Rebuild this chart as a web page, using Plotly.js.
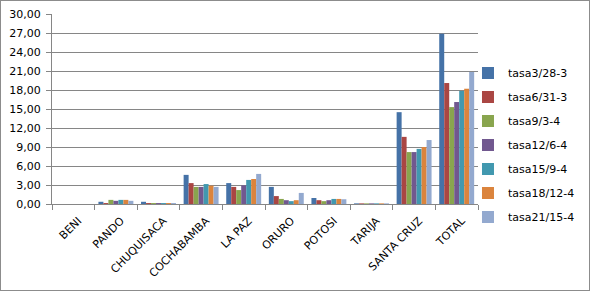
<!DOCTYPE html>
<html><head><meta charset="utf-8">
<script src="https://cdn.plot.ly/plotly-3.0.1.min.js"></script>
<style>body{margin:0;}#wrap{position:relative;width:590px;height:291px;}#chart{width:590px;height:291px;}#frame{position:absolute;left:0;top:0;width:588px;height:289px;border:1px solid #8c8c8c;pointer-events:none;}</style>
</head><body><div id="wrap"><div id="chart"></div><div id="frame"></div></div>
<script>
const categories = ["BENI","PANDO","CHUQUISACA","COCHABAMBA","LA PAZ","ORURO","POTOSI","TARIJA","SANTA CRUZ","TOTAL"];
const seriesNames = ["tasa3/28-3","tasa6/31-3","tasa9/3-4","tasa12/6-4","tasa15/9-4","tasa18/12-4","tasa21/15-4"];
const tasa3_28_3  = [0, 0.35, 0.35, 4.6, 3.3, 2.7, 0.95, 0.1, 14.5, 26.9];
const tasa6_31_3  = [0, 0.15, 0.15, 3.3, 2.7, 1.25, 0.6, 0.1, 10.6, 19.1];
const tasa9_3_4   = [0, 0.65, 0.15, 2.7, 2.2, 0.8, 0.45, 0.1, 8.2, 15.3];
const tasa12_6_4  = [0, 0.5, 0.15, 2.7, 2.95, 0.6, 0.6, 0.1, 8.2, 16.1];
const tasa15_9_4  = [0, 0.65, 0.15, 3.15, 3.8, 0.45, 0.8, 0.1, 8.7, 17.85];
const tasa18_12_4 = [0, 0.65, 0.15, 2.9, 3.95, 0.6, 0.8, 0.1, 9.0, 18.2];
const tasa21_15_4 = [0, 0.5, 0.15, 2.7, 4.75, 1.75, 0.75, 0.1, 10.1, 20.85];
const allSeries = [tasa3_28_3, tasa6_31_3, tasa9_3_4, tasa12_6_4, tasa15_9_4, tasa18_12_4, tasa21_15_4];
const colors = ["#4572A7","#AA4643","#89A54E","#71588F","#4198AF","#DB843D","#93A9CF"];

const traces = allSeries.map((vals, i) => ({
  type: "bar", x: categories, y: vals, name: seriesNames[i],
  marker: {color: colors[i]}, legendgroup: "g" + i
}));

const layout = {
  width: 590, height: 291,
  margin: {l: 52, r: 112, t: 14, b: 87, autoexpand: false},
  paper_bgcolor: "#ffffff", plot_bgcolor: "#ffffff",
  font: {family: "DejaVu Sans", size: 11, color: "#000000"},
  separators: ", ",
  barmode: "group", bargap: 0.18, bargroupgap: 0,
  xaxis: {
    type: "category", tickangle: -45, showgrid: false,
    showline: true, linecolor: "#868686", linewidth: 1,
    ticks: "outside", tickson: "boundaries", ticklen: 5, tickcolor: "#868686",
    ticklabelstandoff: 5, ticklabelshift: 5,
    tickfont: {family: "DejaVu Sans", size: 11}
  },
  yaxis: {
    range: [0, 30], dtick: 3, tickformat: ".2f",
    showgrid: true, gridcolor: "#868686", gridwidth: 1,
    showline: true, linecolor: "#868686", linewidth: 1,
    ticks: "outside", ticklen: 5, tickcolor: "#868686", ticklabelstandoff: 3,
    zeroline: false, tickfont: {family: "DejaVu Sans", size: 11}
  },
  legend: {
    x: 0.9765, y: 0.31, xanchor: "left", yanchor: "middle",
    font: {family: "DejaVu Sans", size: 11}, tracegroupgap: 5,
    itemwidth: 30, bgcolor: "rgba(0,0,0,0)"
  }
};
Plotly.newPlot("chart", traces, layout, {displayModeBar: false, staticPlot: true});
</script></body></html>
